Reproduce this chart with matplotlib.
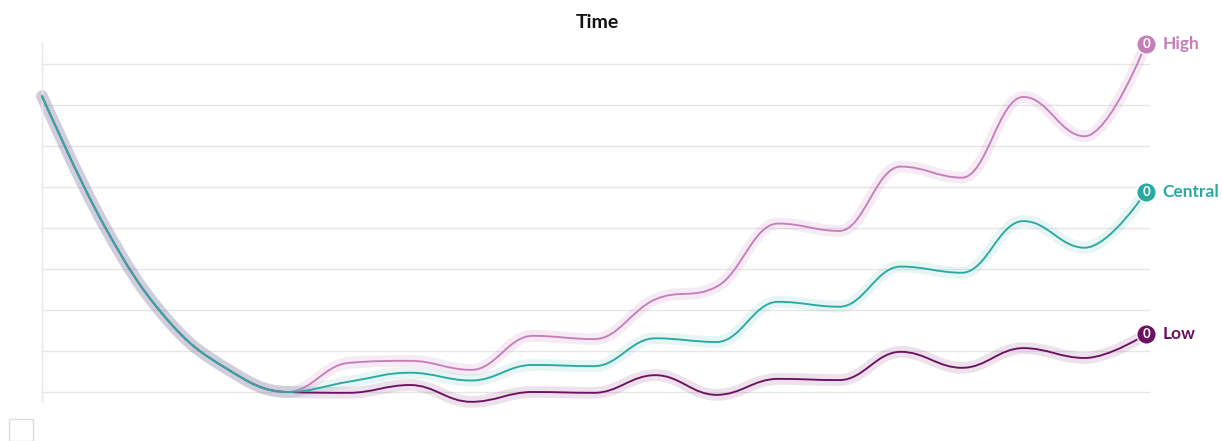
import matplotlib

matplotlib.use("Agg")
import matplotlib.pyplot as plt
from matplotlib.patches import PathPatch, Rectangle
from matplotlib.path import Path

plt.rcParams["font.family"] = ["Lato", "DejaVu Sans"]

# data
time = list(range(19))
high = [7.22, 4.10, 1.84, 0.58, 0.0, 0.71, 0.76, 0.54, 1.37, 1.29,
        2.26, 2.57, 4.11, 3.93, 5.50, 5.23, 7.20, 6.24, 8.50]
central = [7.22, 4.10, 1.84, 0.58, 0.0, 0.25, 0.47, 0.28, 0.66, 0.63,
           1.31, 1.22, 2.20, 2.08, 3.06, 2.91, 4.17, 3.52, 4.89]
low = [7.22, 4.10, 1.84, 0.58, 0.0, -0.02, 0.17, -0.24, 0.0, -0.02,
       0.41, -0.07, 0.32, 0.29, 0.98, 0.59, 1.07, 0.83, 1.41]
names = ["Low", "High", "Central"]
end_labels = ["0", "0", "0"]

colors = {"High": "#c47fb8", "Central": "#2aa9a0", "Low": "#6b1160"}
halo_alpha = {"High": 0.15, "Central": 0.11, "Low": 0.12}


def spline_path(xs, ys, smoothing=1.5):
    # highcharts-style spline: bezier control points around each point
    n = len(xs)
    left = [(xs[i], ys[i]) for i in range(n)]
    right = [(xs[i], ys[i]) for i in range(n)]
    denom = smoothing + 1
    for i in range(1, n - 1):
        x, y = xs[i], ys[i]
        lx, ly = xs[i - 1], ys[i - 1]
        nx, ny = xs[i + 1], ys[i + 1]
        lcx = (smoothing * x + lx) / denom
        lcy = (smoothing * y + ly) / denom
        rcx = (smoothing * x + nx) / denom
        rcy = (smoothing * y + ny) / denom
        corr = 0.0
        if rcx != lcx:
            corr = (rcy - lcy) * (rcx - x) / (rcx - lcx) + y - rcy
        lcy += corr
        rcy += corr
        if lcy > ly and lcy > y:
            lcy = max(ly, y)
            rcy = 2 * y - lcy
        elif lcy < ly and lcy < y:
            lcy = min(ly, y)
            rcy = 2 * y - lcy
        if rcy > ny and rcy > y:
            rcy = max(ny, y)
            lcy = 2 * y - rcy
        elif rcy < ny and rcy < y:
            rcy = min(ny, y)
            lcy = 2 * y - rcy
        left[i] = (lcx, lcy)
        right[i] = (rcx, rcy)
    verts = [(xs[0], ys[0])]
    codes = [Path.MOVETO]
    for i in range(1, n):
        verts += [right[i - 1], left[i], (xs[i], ys[i])]
        codes += [Path.CURVE4] * 3
    return Path(verts, codes)


fig = plt.figure(figsize=(12.22, 4.41), dpi=100)
ax = fig.add_axes([42 / 1222, 40 / 441, 1108 / 1222, 359 / 441])
ax.set_xlim(0, 18.065)
ax.set_ylim(-0.22, 8.54)
for s in ["top", "right", "bottom"]:
    ax.spines[s].set_visible(False)
ax.spines["left"].set_color("#e8e8e8")
ax.spines["left"].set_linewidth(1)
ax.set_xticks([])
ax.set_yticks(range(9))
ax.set_yticklabels([])
ax.tick_params(axis="y", length=0)
ax.grid(axis="y", color="#e6e6e6", linewidth=1)
ax.set_axisbelow(True)

series = {"High": high, "Central": central, "Low": low}
for name in names:
    p = spline_path(time, series[name])
    ax.add_patch(PathPatch(p, facecolor="none", edgecolor=colors[name], lw=8.5,
                           alpha=halo_alpha[name], capstyle="round", joinstyle="round",
                           clip_on=False, zorder=2))
for name in names:
    p = spline_path(time, series[name])
    ax.add_patch(PathPatch(p, facecolor="none", edgecolor=colors[name], lw=1.35,
                           capstyle="round", clip_on=False, zorder=3))

for name, lab in zip(names, end_labels):
    ys = series[name]
    ax.plot(time[-1], ys[-1], "o", ms=14, color=colors[name], mec="white",
            mew=1.0, clip_on=False, zorder=5)
    ax.text(time[-1], ys[-1], lab, color="white", fontsize=9.5, fontweight="bold",
            ha="center", va="center", zorder=6)
    ax.annotate(name, (time[-1], ys[-1]), xytext=(12, 0), textcoords="offset points",
                color=colors[name], fontsize=12.5, fontweight="bold",
                ha="left", va="center", annotation_clip=False)

fig.text(597 / 1222, 1 - 22 / 441, "Time", ha="center", va="center",
         fontsize=14, fontweight="bold", color="#111111")
fig.patches.append(Rectangle((9 / 1222, 0), 24 / 1222, 22 / 441, transform=fig.transFigure,
                             facecolor="white", edgecolor="#dddddd", lw=1))

fig.savefig("out.png", dpi=100)
